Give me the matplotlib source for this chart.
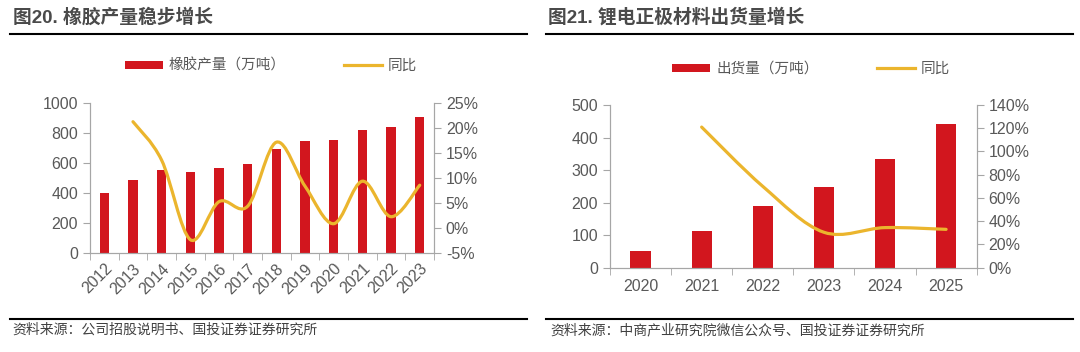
import numpy as np
import matplotlib
matplotlib.use('Agg')
import matplotlib.pyplot as plt
from matplotlib.path import Path
from matplotlib.patches import PathPatch, Patch
from matplotlib.lines import Line2D
from matplotlib.ticker import FuncFormatter

plt.rcParams['font.family'] = ['Liberation Sans', 'Noto Sans CJK SC']

#left chart data: rubber output
years1 = ['2012', '2013', '2014', '2015', '2016', '2017', '2018', '2019', '2020', '2021', '2022', '2023']
output1 = [400, 482, 550, 537, 562, 592, 692, 745, 750, 820, 836, 908]
yoy1 = [None, 21.2, 13.5, -2.4, 5.2, 4.3, 17.1, 8.3, 0.8, 9.3, 2.2, 8.5]

#right chart data: cathode material shipments
years2 = ['2020', '2021', '2022', '2023', '2024', '2025']
output2 = [51, 112, 190, 248, 333, 443]
yoy2 = [None, 121, 70, 30.5, 34.5, 33]

RED = '#D2161E'
GOLD = '#EBB52D'
GRAY = '#595959'
SPINE = '#A6A6A6'


def smooth_path(xs, ys):
    #excel style smoothed line: catmull-rom converted to bezier segments
    pts = np.column_stack([xs, ys]).astype(float)
    ext = np.vstack([pts[0], pts, pts[-1]])
    verts = [pts[0]]
    codes = [Path.MOVETO]
    for i in range(1, len(ext) - 2):
        p0, p1, p2, p3 = ext[i - 1], ext[i], ext[i + 1], ext[i + 2]
        c1 = p1 + (p2 - p0) / 6.0
        c2 = p2 - (p3 - p1) / 6.0
        verts += [c1, c2, p2]
        codes += [Path.CURVE4] * 3
    return Path(verts, codes)


def draw_panel(rect, cats, bars, yoy, ylim, y2lim, ystep, y2step, rotate):
    ax = fig.add_axes(rect)
    x = np.arange(len(cats))
    ax.bar(x, bars, width=0.33, color=RED, zorder=2)
    ax.set_xlim(-0.5, len(cats) - 0.5)
    ax.set_ylim(*ylim)
    ax.set_yticks(np.arange(ylim[0], ylim[1] + 1, ystep))
    ax.set_xticks(x)
    ax.set_xticklabels(cats, rotation=45 if rotate else 0,
                       ha='right' if rotate else 'center',
                       rotation_mode='anchor' if rotate else 'default')
    ax.set_xticks(np.arange(-0.5, len(cats)), minor=True)
    ax.tick_params(axis='x', which='major', length=0, pad=6 if rotate else 8,
                   labelsize=11.5, labelcolor=GRAY)
    ax.tick_params(axis='x', which='minor', length=5, color=SPINE, direction='out')
    ax.tick_params(axis='y', length=5, color=SPINE, labelsize=11.5, labelcolor=GRAY)
    ax.spines['top'].set_visible(False)
    for s in ['left', 'bottom', 'right']:
        ax.spines[s].set_color(SPINE)

    ax2 = ax.twinx()
    ax2.set_ylim(*y2lim)
    ax2.set_yticks(np.arange(y2lim[0], y2lim[1] + 0.1, y2step))
    ax2.yaxis.set_major_formatter(FuncFormatter(lambda v, p: '%d%%' % round(v)))
    ax2.tick_params(axis='y', length=5, color=SPINE, labelsize=11.5, labelcolor=GRAY)
    ax2.spines['top'].set_visible(False)
    for s in ['left', 'bottom', 'right']:
        ax2.spines[s].set_color(SPINE)
    lx = [i for i, v in enumerate(yoy) if v is not None]
    ly = [v for v in yoy if v is not None]
    ax2.add_patch(PathPatch(smooth_path(lx, ly), facecolor='none', edgecolor=GOLD,
                            lw=2.3, capstyle='round', zorder=3))
    return ax, ax2


fig = plt.figure(figsize=(10.8, 3.52), dpi=100)

draw_panel([0.0833, 0.2821, 0.3186, 0.4261], years1, output1, yoy1,
           (0, 1000), (-5, 25), 200, 5, True)
draw_panel([0.5648, 0.2395, 0.3395, 0.4622], years2, output2, yoy2,
           (0, 500), (0, 140), 100, 20, False)

#titles and rules
fig.text(13 / 1080, 1 - 17 / 352, '图20. 橡胶产量稳步增长', fontsize=13.5, fontweight='bold',
         color='#4a4a4a', va='center', ha='left')
fig.text(548 / 1080, 1 - 17 / 352, '图21. 锂电正极材料出货量增长', fontsize=13.5, fontweight='bold',
         color='#4a4a4a', va='center', ha='left')
for x0, x1 in [(10, 527), (546, 1073)]:
    fig.add_artist(Line2D([x0 / 1080, x1 / 1080], [1 - 33.5 / 352] * 2, color='black', lw=1.5))
    fig.add_artist(Line2D([x0 / 1080, x1 / 1080], [1 - 318.5 / 352] * 2, color='black', lw=1.5))

#legends
def legend(cx, cy, label):
    h = [Patch(facecolor=RED, edgecolor='none'), Line2D([], [], color=GOLD, lw=2.3)]
    fig.legend(h, [label, '同比'], loc='center', bbox_to_anchor=(cx, cy), ncol=2,
               frameon=False, fontsize=10.5, handlelength=2.6, handleheight=0.5,
               handletextpad=0.4, columnspacing=4.0, labelcolor=GRAY)

legend(271 / 1080, 1 - 66 / 352, '橡胶产量（万吨）')
legend(811 / 1080, 1 - 69 / 352, '出货量（万吨）')

#sources
fig.text(12 / 1080, 1 - 330 / 352, '资料来源：公司招股说明书、国投证券证券研究所', fontsize=10,
         color='#404040', va='center', ha='left')
fig.text(550 / 1080, 1 - 330 / 352, '资料来源：中商产业研究院微信公众号、国投证券证券研究所', fontsize=10,
         color='#404040', va='center', ha='left')

fig.savefig('out.png', dpi=100)
